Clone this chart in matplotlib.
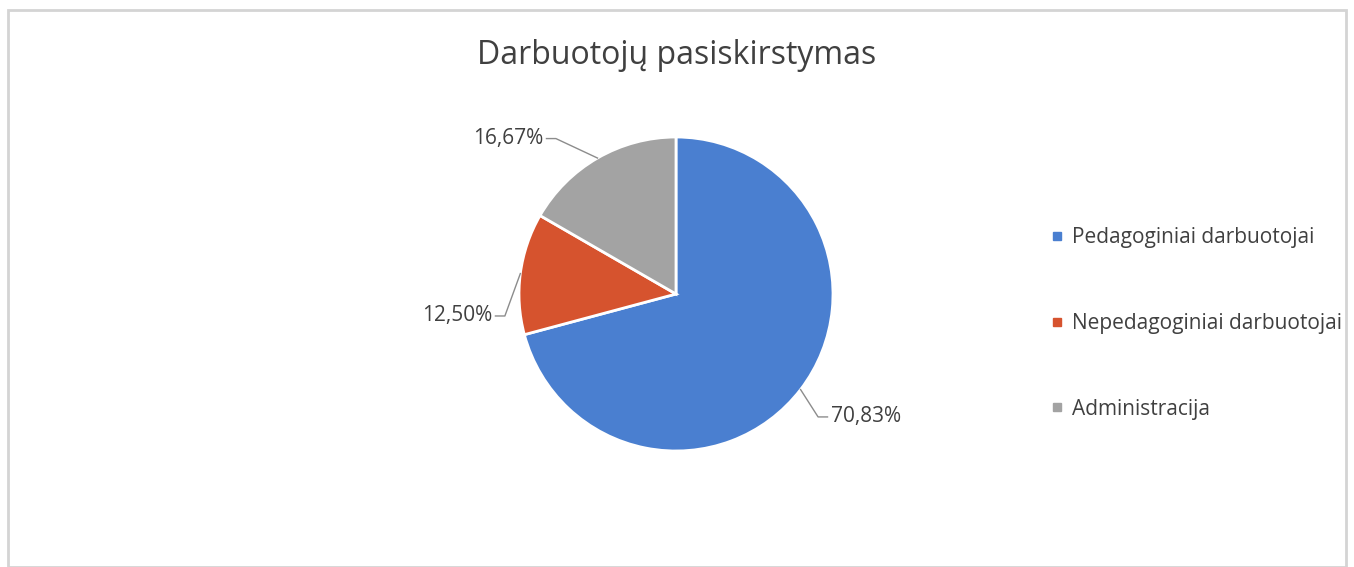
import matplotlib
matplotlib.use("Agg")
import matplotlib.pyplot as plt
from matplotlib.lines import Line2D
from matplotlib.patches import Rectangle
import numpy as np

plt.rcParams['font.family'] = ['Open Sans', 'DejaVu Sans']

title = "Darbuotojų pasiskirstymas"
categories = ["Pedagoginiai darbuotojai", "Nepedagoginiai darbuotojai", "Administracija"]
values = [70.83, 12.50, 16.67]
value_labels = ["70,83%", "12,50%", "16,67%"]
colors = ["#4a7fd0", "#d6532e", "#a3a3a3"]

W, H = 1354, 567
fig = plt.figure(figsize=(W / 100, H / 100), dpi=100)
fig.patch.set_facecolor("white")

# chart border
fig.patches.append(Rectangle((8 / W, 0), (1346 - 8) / W, (H - 10) / H,
                             transform=fig.transFigure, fill=False,
                             edgecolor="#d4d4d4", linewidth=2))

cx, cy, r = 676, 567 - 294, 157
half = 200
ax = fig.add_axes([(cx - half) / W, (cy - half) / H, 2 * half / W, 2 * half / H])

wedges, _ = ax.pie(values, colors=colors, startangle=90, counterclock=False,
                   radius=1.0, wedgeprops=dict(edgecolor="white", linewidth=2))
lim = half / r
ax.set_xlim(-lim, lim)
ax.set_ylim(-lim, lim)
ax.set_aspect("equal")
ax.axis("off")

# label text positions (data units): x of text edge nearest the pie, y centre
text_pos = [(0.985, -0.783, "left"), (-1.17, -0.14, "right"), (-0.845, 0.99, "right")]
gap, arm = 0.02, 0.06
for w, lab, (tx, ty, ha) in zip(wedges, value_labels, text_pos):
    ang = np.deg2rad((w.theta1 + w.theta2) / 2)
    ex, ey = np.cos(ang), np.sin(ang)
    s = 1 if ha == "right" else -1
    x0 = tx + s * gap
    x1 = x0 + s * arm
    ax.plot([x0, x1, ex], [ty, ty, ey], color="#8c8c8c", lw=1, clip_on=False)
    ax.text(tx, ty, lab, ha=ha, va="center", fontsize=15, color="#404040")

fig.text(677 / W, 1 - 55 / H, title, ha="center", va="center",
         fontsize=23, color="#404040")

handles = [Line2D([], [], marker="s", linestyle="none", markersize=6,
                  markerfacecolor=c, markeredgecolor=c) for c in colors]
fig.legend(handles, categories, loc="upper left",
           bbox_to_anchor=(1040 / W, 1 - 217 / H), frameon=False,
           fontsize=15, labelcolor="#404040", handlelength=0.6,
           handletextpad=0.45, labelspacing=3.1, borderpad=0)

fig.savefig("out.png", dpi=100, facecolor="white")
